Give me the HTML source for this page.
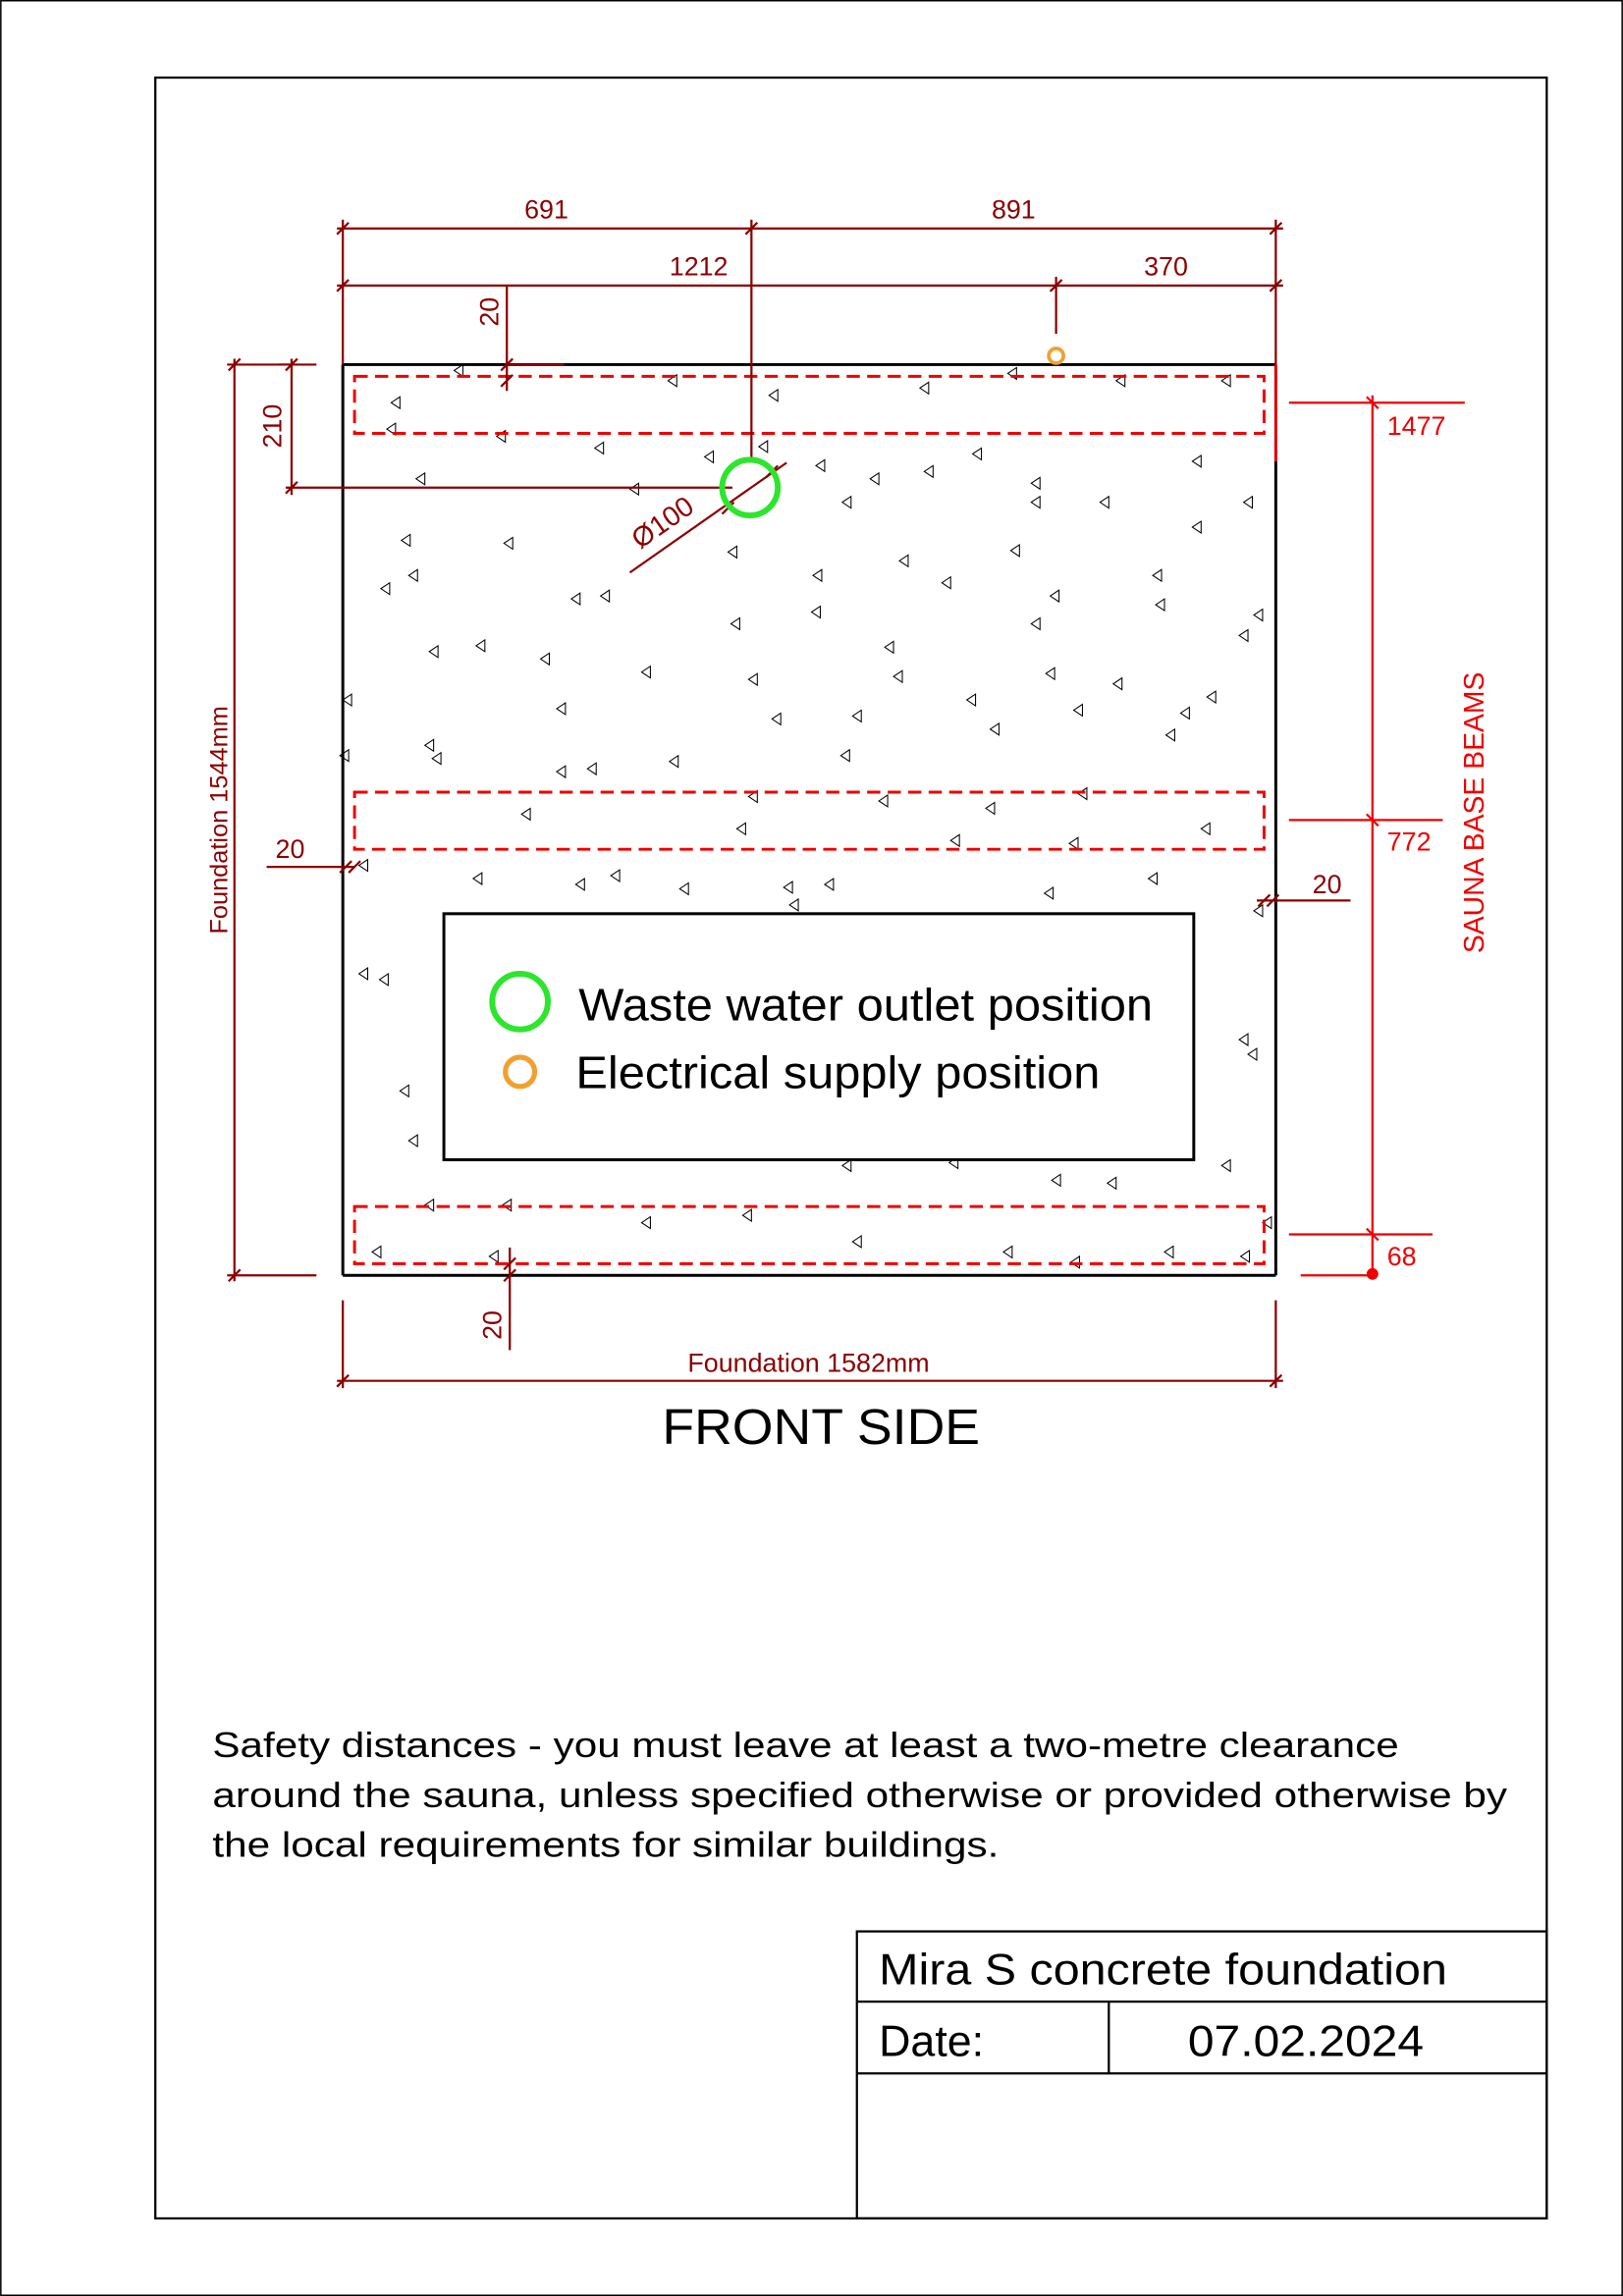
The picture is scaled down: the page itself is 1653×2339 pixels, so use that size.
<!DOCTYPE html>
<html><head><meta charset="utf-8"><style>
html,body{margin:0;padding:0;background:#fff}
svg{display:block}
text{font-family:"Liberation Sans",Arial,sans-serif}
</style></head><body>
<svg width="1653" height="2339" viewBox="0 0 1108 1568" xmlns="http://www.w3.org/2000/svg">
<defs>
<path id="t" d="M0,-4 L0,4 L-6,0 Z" fill="none" stroke="#000" stroke-width="0.7"/>
<path id="tk" d="M-4,4 L4,-4" stroke="#8b0000" stroke-width="1.5"/>
</defs>
<rect x="0.5" y="0.5" width="1107" height="1567" fill="none" stroke="#000" stroke-width="1"/>
<rect x="106" y="53" width="950" height="1462" fill="none" stroke="#000" stroke-width="1.5"/>

<line x1="234" y1="249" x2="871" y2="249" stroke="#000" stroke-width="2"/>
<line x1="234" y1="249" x2="234" y2="871" stroke="#000" stroke-width="2"/>
<line x1="234" y1="871" x2="871" y2="871" stroke="#000" stroke-width="2"/>
<line x1="871" y1="315" x2="871" y2="871" stroke="#000" stroke-width="2"/>
<line x1="871" y1="249" x2="871" y2="315" stroke="#d00" stroke-width="2"/>

<g>
<use href="#t" x="316" y="253"/><use href="#t" x="462" y="260"/><use href="#t" x="694" y="255"/><use href="#t" x="768" y="260"/><use href="#t" x="840" y="260"/>
<use href="#t" x="273" y="275"/><use href="#t" x="270" y="293"/><use href="#t" x="345" y="298"/><use href="#t" x="531" y="270"/><use href="#t" x="634" y="265"/>
<use href="#t" x="412" y="306"/><use href="#t" x="487" y="312"/><use href="#t" x="524" y="305"/><use href="#t" x="563" y="318"/><use href="#t" x="600" y="327"/><use href="#t" x="637" y="322"/><use href="#t" x="670" y="310"/>
<use href="#t" x="290" y="327"/><use href="#t" x="436" y="334"/><use href="#t" x="581" y="343"/><use href="#t" x="710" y="330"/><use href="#t" x="710" y="343"/><use href="#t" x="757" y="343"/><use href="#t" x="820" y="315"/><use href="#t" x="855" y="343"/>
<use href="#t" x="280" y="369"/><use href="#t" x="350" y="371"/><use href="#t" x="503" y="377"/><use href="#t" x="620" y="383"/><use href="#t" x="696" y="376"/><use href="#t" x="820" y="360"/>
<use href="#t" x="266" y="402"/><use href="#t" x="285" y="393"/><use href="#t" x="396" y="409"/><use href="#t" x="416" y="407"/><use href="#t" x="561" y="393"/><use href="#t" x="649" y="398"/><use href="#t" x="723" y="407"/><use href="#t" x="793" y="393"/><use href="#t" x="795" y="413"/>
<use href="#t" x="331" y="441"/><use href="#t" x="299" y="445"/><use href="#t" x="375" y="450"/><use href="#t" x="505" y="426"/><use href="#t" x="560" y="418"/><use href="#t" x="610" y="442"/><use href="#t" x="710" y="426"/><use href="#t" x="852" y="434"/><use href="#t" x="862" y="420"/>
<use href="#t" x="444" y="459"/><use href="#t" x="517" y="464"/><use href="#t" x="616" y="462"/><use href="#t" x="720" y="460"/><use href="#t" x="766" y="467"/><use href="#t" x="830" y="476"/>
<use href="#t" x="240" y="478"/><use href="#t" x="386" y="484"/><use href="#t" x="533" y="491"/><use href="#t" x="588" y="489"/><use href="#t" x="666" y="478"/><use href="#t" x="682" y="498"/><use href="#t" x="739" y="485"/><use href="#t" x="812" y="487"/>
<use href="#t" x="296" y="509"/><use href="#t" x="301" y="518"/><use href="#t" x="386" y="527"/><use href="#t" x="407" y="525"/><use href="#t" x="463" y="520"/><use href="#t" x="580" y="516"/><use href="#t" x="802" y="502"/><use href="#t" x="238" y="516"/>
<use href="#t" x="362" y="556"/><use href="#t" x="517" y="544"/><use href="#t" x="606" y="547"/><use href="#t" x="679" y="552"/><use href="#t" x="742" y="542"/><use href="#t" x="826" y="566"/><use href="#t" x="509" y="566"/>
<use href="#t" x="655" y="574"/><use href="#t" x="736" y="576"/><use href="#t" x="251" y="591"/><use href="#t" x="329" y="600"/><use href="#t" x="399" y="604"/><use href="#t" x="423" y="598"/><use href="#t" x="470" y="607"/><use href="#t" x="541" y="606"/><use href="#t" x="569" y="604"/><use href="#t" x="719" y="610"/><use href="#t" x="790" y="600"/>
<use href="#t" x="545" y="618"/><use href="#t" x="862" y="622"/><use href="#t" x="251" y="665"/><use href="#t" x="265" y="669"/><use href="#t" x="852" y="710"/><use href="#t" x="858" y="720"/><use href="#t" x="279" y="745"/><use href="#t" x="285" y="779"/>
<use href="#t" x="581" y="796"/><use href="#t" x="654" y="794"/><use href="#t" x="724" y="806"/><use href="#t" x="762" y="808"/><use href="#t" x="840" y="796"/><use href="#t" x="296" y="823"/><use href="#t" x="349" y="823"/><use href="#t" x="444" y="835"/><use href="#t" x="513" y="830"/><use href="#t" x="868" y="835"/>
<use href="#t" x="260" y="855"/><use href="#t" x="340" y="858"/><use href="#t" x="588" y="848"/><use href="#t" x="691" y="855"/><use href="#t" x="737" y="862"/><use href="#t" x="801" y="855"/><use href="#t" x="853" y="858"/>
</g>

<g fill="none" stroke="#e00" stroke-width="2" stroke-dasharray="9,5">
<rect x="242" y="257" width="621" height="39"/>
<rect x="242" y="541" width="621" height="39"/>
<rect x="242" y="824" width="621" height="39"/>
</g>

<g stroke="#8b0000" stroke-width="1.5" fill="none">
<line x1="230" y1="156" x2="876" y2="156"/>
<line x1="230" y1="195" x2="876" y2="195"/>
<line x1="234" y1="150" x2="234" y2="249"/>
<line x1="871" y1="150" x2="871" y2="249"/>
<line x1="513" y1="150" x2="513" y2="315"/>
<line x1="721" y1="189" x2="721" y2="228"/>
<line x1="346" y1="195" x2="346" y2="267"/>
<line x1="346" y1="249" x2="385" y2="249"/>
<line x1="199" y1="245" x2="199" y2="338"/>
<line x1="190" y1="249" x2="216" y2="249"/>
<line x1="195" y1="333" x2="500" y2="333"/>
<line x1="160" y1="245" x2="160" y2="875"/>
<line x1="155" y1="249" x2="200" y2="249"/>
<line x1="155" y1="871" x2="216" y2="871"/>
<line x1="182" y1="592" x2="242" y2="592"/>
<line x1="858" y1="615" x2="922" y2="615"/>
<line x1="348" y1="852" x2="348" y2="922"/>
<line x1="230" y1="943" x2="876" y2="943"/>
<line x1="234" y1="888" x2="234" y2="948"/>
<line x1="871" y1="888" x2="871" y2="948"/>
<line x1="430" y1="391" x2="537" y2="316"/>
</g>
<g>
<use href="#tk" x="234" y="156"/><use href="#tk" x="513" y="156"/><use href="#tk" x="871" y="156"/>
<use href="#tk" x="234" y="195"/><use href="#tk" x="721" y="195"/><use href="#tk" x="871" y="195"/>
<use href="#tk" x="346" y="249"/><use href="#tk" x="346" y="260"/>
<use href="#tk" x="199" y="249"/><use href="#tk" x="199" y="333"/>
<use href="#tk" x="160" y="249"/><use href="#tk" x="160" y="871"/>
<use href="#tk" x="236" y="592"/><use href="#tk" x="242" y="592"/>
<use href="#tk" x="863" y="615"/><use href="#tk" x="869" y="615"/>
<use href="#tk" x="348" y="863"/><use href="#tk" x="348" y="871"/>
<use href="#tk" x="234" y="943"/><use href="#tk" x="871" y="943"/>
<use href="#tk" x="497" y="347"/><use href="#tk" x="527" y="322"/>
</g>
<g fill="#8b0000" font-size="18">
<text x="373" y="149" text-anchor="middle">691</text>
<text x="692" y="149" text-anchor="middle">891</text>
<text x="477" y="188" text-anchor="middle">1212</text>
<text x="796" y="188" text-anchor="middle">370</text>
<text transform="translate(340,213) rotate(-90)" text-anchor="middle">20</text>
<text transform="translate(192,291) rotate(-90)" text-anchor="middle">210</text>
<text transform="translate(456,362) rotate(-35)" text-anchor="middle" font-size="19">Ø100</text>
<text transform="translate(155,560) rotate(-90)" text-anchor="middle" font-size="17">Foundation 1544mm</text>
<text x="198" y="586" text-anchor="middle">20</text>
<text x="906" y="610" text-anchor="middle">20</text>
<text transform="translate(342,905) rotate(-90)" text-anchor="middle">20</text>
<text x="552" y="937" text-anchor="middle" font-size="18">Foundation 1582mm</text>
</g>

<g stroke="#e00" stroke-width="1.5">
<line x1="937" y1="270" x2="937" y2="871"/>
<line x1="880" y1="275" x2="1000" y2="275"/>
<line x1="880" y1="560" x2="985" y2="560"/>
<line x1="880" y1="843" x2="978" y2="843"/>
<line x1="888" y1="871" x2="937" y2="871"/>
<line x1="933" y1="271" x2="941" y2="279"/>
<line x1="933" y1="556" x2="941" y2="564"/>
<line x1="933" y1="839" x2="941" y2="847"/>
</g>
<circle cx="937" cy="870" r="4" fill="#e00"/>
<g fill="#e00" font-size="18">
<text x="947" y="297">1477</text>
<text x="947" y="581">772</text>
<text x="947" y="864">68</text>
<text transform="translate(1013,555) rotate(-90)" text-anchor="middle" font-size="19">SAUNA BASE BEAMS</text>
</g>

<circle cx="512" cy="333" r="19" fill="none" stroke="#2ee52e" stroke-width="4"/>
<circle cx="721" cy="243" r="5" fill="none" stroke="#f0a030" stroke-width="2.5"/>

<rect x="303" y="624" width="512" height="168" fill="#fff" stroke="#000" stroke-width="2"/>
<circle cx="355" cy="684" r="19" fill="none" stroke="#2ee52e" stroke-width="4"/>
<circle cx="355" cy="732" r="10" fill="none" stroke="#f0a030" stroke-width="3.5"/>
<text x="395" y="697" font-size="31" textLength="392" lengthAdjust="spacingAndGlyphs">Waste water outlet position</text>
<text x="393" y="743" font-size="31" textLength="358" lengthAdjust="spacingAndGlyphs">Electrical supply position</text>

<text x="452" y="986" font-size="34" textLength="217" lengthAdjust="spacingAndGlyphs">FRONT SIDE</text>

<g font-size="24">
<text x="145" y="1200" textLength="810" lengthAdjust="spacingAndGlyphs">Safety distances - you must leave at least a two-metre clearance</text>
<text x="145" y="1234" textLength="884" lengthAdjust="spacingAndGlyphs">around the sauna, unless specified otherwise or provided otherwise by</text>
<text x="145" y="1268" textLength="537" lengthAdjust="spacingAndGlyphs">the local requirements for similar buildings.</text>
</g>

<g stroke="#000" stroke-width="1.5" fill="none">
<rect x="585" y="1319" width="471" height="196"/>
<line x1="585" y1="1367" x2="1056" y2="1367"/>
<line x1="585" y1="1416" x2="1056" y2="1416"/>
<line x1="757" y1="1367" x2="757" y2="1416"/>
</g>
<text x="600" y="1355" font-size="30" textLength="388" lengthAdjust="spacingAndGlyphs">Mira S concrete foundation</text>
<text x="600" y="1404" font-size="30">Date:</text>
<text x="811" y="1404" font-size="30" textLength="161" lengthAdjust="spacingAndGlyphs">07.02.2024</text>
</svg>
</body></html>
